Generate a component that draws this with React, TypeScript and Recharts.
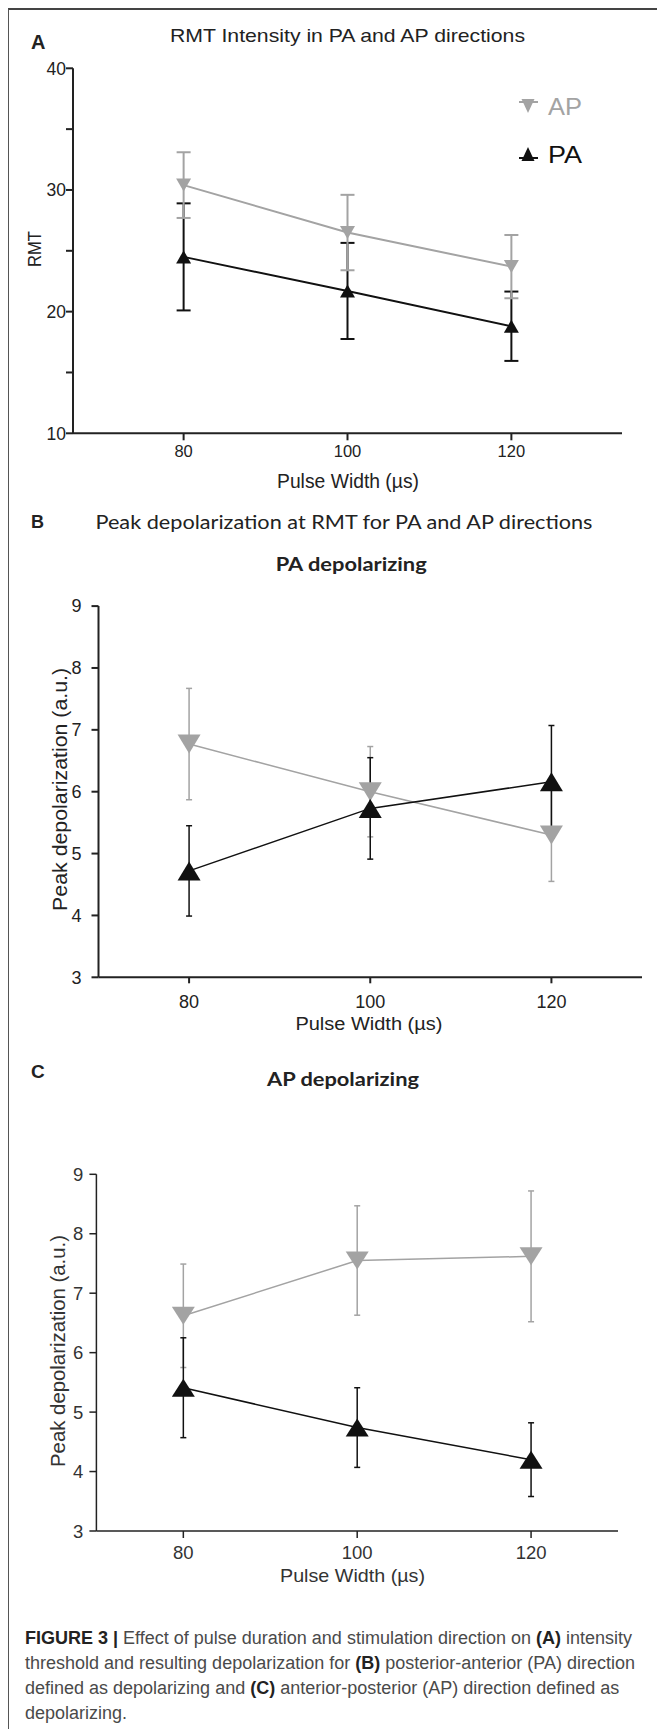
import React from 'react';
import { ScatterChart, Scatter, XAxis, YAxis, ErrorBar } from 'recharts';

const pulseWidths = [80, 100, 120];
const xTicks = [80, 100, 120];

// A: RMT intensity
const rmtAP = [30.4, 26.5, 23.7];
const rmtAPErr = [2.7, 3.1, 2.6];
const rmtPA = [24.5, 21.7, 18.8];
const rmtPAErr = [4.4, 3.95, 2.85];
const rmtTicks = [10, 15, 20, 25, 30, 35, 40];

// B: PA depolarizing
const paDepAP = [6.77, 6.0, 5.3];
const paDepAPErr = [0.9, 0.73, 0.75];
const paDepPA = [4.72, 5.73, 6.16];
const paDepPAErr = [0.73, 0.82, 0.91];

// C: AP depolarizing
const apDepAP = [6.62, 7.55, 7.62];
const apDepAPErr = [0.87, 0.92, 1.1];
const apDepPA = [5.41, 4.74, 4.2];
const apDepPAErr = [0.84, 0.67, 0.62];

const depTicks = [3, 4, 5, 6, 7, 8, 9];

const GRAY = '#a3a3a3';
const BLACK = '#111';
const AXIS = '#222';
const SANS = "'Liberation Sans', Arial, sans-serif";
const HUM = "Lato, 'Open Sans', sans-serif";

const toPoints = (ys: number[], errs: number[]) =>
  pulseWidths.map((x, i) => ({ x, y: ys[i], err: errs[i] }));

// triangle marker, up for PA and down for AP
const triangle = (w: number, h: number, up: boolean, fill: string) => (props: any) => {
  const { cx, cy } = props;
  if (cx == null || cy == null) return <g />;
  const pts = up
    ? `${cx},${cy - h / 2} ${cx + w / 2},${cy + h / 2} ${cx - w / 2},${cy + h / 2}`
    : `${cx - w / 2},${cy - h / 2} ${cx + w / 2},${cy - h / 2} ${cx},${cy + h / 2}`;
  return <polygon points={pts} fill={fill} />;
};

function series(
  name: string,
  data: any[],
  color: string,
  up: boolean,
  size: [number, number],
  lineW: number,
  capW: number,
  errW: number
) {
  return (
    <Scatter
      key={name}
      name={name}
      data={data}
      fill={color}
      line={{ stroke: color, strokeWidth: lineW }}
      shape={triangle(size[0], size[1], up, color)}
      isAnimationActive={false}
    >
      <ErrorBar dataKey="err" direction="y" width={capW} stroke={color} strokeWidth={errW} isAnimationActive={false} />
    </Scatter>
  );
}

export default function App() {
  const axisLine = { stroke: AXIS, strokeWidth: 2 };
  const thinAxis = { stroke: AXIS, strokeWidth: 1.5 };

  return (
    <div style={{ position: 'relative', width: 657, height: 1729, overflow: 'hidden', background: '#fff' }}>
      <style>{`body{margin:0}`}</style>
      <div
        style={{
          position: 'absolute',
          left: 8,
          top: 8,
          width: 649,
          height: 1721,
          borderTop: '2px solid #444',
          borderLeft: '1.5px solid #555',
          boxSizing: 'border-box',
        }}
      />

      {/* Panel A */}
      <div style={{ position: 'absolute', left: 0, top: 0 }}>
        <ScatterChart width={657} height={500} margin={{ top: 68.3, right: 35, bottom: 36.7, left: 13 }}>
          <XAxis
            type="number"
            dataKey="x"
            domain={[66.5, 133.5]}
            ticks={xTicks}
            allowDataOverflow
            height={30}
            axisLine={axisLine}
            tickLine={axisLine}
            tickSize={7}
            tickMargin={5}
            tick={{ fontSize: 16.5, fill: AXIS, fontFamily: SANS }}
          />
          <YAxis
            type="number"
            dataKey="y"
            domain={[10, 40]}
            ticks={rmtTicks}
            allowDataOverflow
            width={60}
            axisLine={axisLine}
            tickLine={axisLine}
            tickSize={7}
            tickMargin={0}
            tickFormatter={(v: number) => (v % 10 === 0 ? String(v) : '')}
            tick={{ fontSize: 17.5, fill: AXIS, fontFamily: SANS }}
          />
          {series('PA', toPoints(rmtPA, rmtPAErr), BLACK, true, [15, 13], 2, 7, 2)}
          {series('AP', toPoints(rmtAP, rmtAPErr), GRAY, false, [15, 13], 2, 7, 2)}
        </ScatterChart>
      </div>

      {/* Panel B */}
      <div style={{ position: 'absolute', left: 0, top: 590 }}>
        <ScatterChart width={657} height={440} margin={{ top: 16.1, right: 15, bottom: 22.7, left: 38.5 }}>
          <XAxis
            type="number"
            dataKey="x"
            domain={[70, 130]}
            ticks={xTicks}
            allowDataOverflow
            height={30}
            axisLine={axisLine}
            tickLine={axisLine}
            tickSize={6}
            tickMargin={12}
            tick={{ fontSize: 18, fill: AXIS, fontFamily: SANS }}
          />
          <YAxis
            type="number"
            dataKey="y"
            domain={[3, 9]}
            ticks={depTicks}
            allowDataOverflow
            width={60}
            axisLine={axisLine}
            tickLine={axisLine}
            tickSize={7}
            tickMargin={10}
            tick={{ fontSize: 18, fill: AXIS, fontFamily: SANS }}
          />
          {series('AP', toPoints(paDepAP, paDepAPErr), GRAY, false, [23, 19], 1.5, 3, 1.5)}
          {series('PA', toPoints(paDepPA, paDepPAErr), BLACK, true, [23, 19], 1.5, 3, 1.5)}
        </ScatterChart>
      </div>

      {/* Panel C */}
      <div style={{ position: 'absolute', left: 0, top: 1160 }}>
        <ScatterChart width={657} height={420} margin={{ top: 14.3, right: 39, bottom: 19, left: 36.4 }}>
          <XAxis
            type="number"
            dataKey="x"
            domain={[70, 130]}
            ticks={xTicks}
            allowDataOverflow
            height={30}
            axisLine={thinAxis}
            tickLine={thinAxis}
            tickSize={7}
            tickMargin={8}
            tick={{ fontSize: 18.5, fill: '#333', fontFamily: SANS }}
          />
          <YAxis
            type="number"
            dataKey="y"
            domain={[3, 9]}
            ticks={depTicks}
            allowDataOverflow
            width={60}
            axisLine={thinAxis}
            tickLine={thinAxis}
            tickSize={7}
            tickMargin={6}
            tick={{ fontSize: 18.5, fill: '#333', fontFamily: SANS }}
          />
          {series('AP', toPoints(apDepAP, apDepAPErr), GRAY, false, [23, 18], 1.5, 3, 1.5)}
          {series('PA', toPoints(apDepPA, apDepPAErr), BLACK, true, [23, 18], 1.5, 3, 1.5)}
        </ScatterChart>
      </div>

      {/* titles, axis labels, legend and caption */}
      <svg width={657} height={1729} style={{ position: 'absolute', left: 0, top: 0, pointerEvents: 'none' }}>
        <g fontFamily={SANS} fill={AXIS}>
          <text x={31} y={49} fontSize={20} fontWeight="bold">A</text>
          <text x={170} y={41.7} fontSize={19} textLength={355} lengthAdjust="spacingAndGlyphs">
            RMT Intensity in PA and AP directions
          </text>
          <text x={277} y={488} fontSize={20} textLength={142} lengthAdjust="spacingAndGlyphs">
            Pulse Width (µs)
          </text>
          <text x={41} y={249} fontSize={19} textAnchor="middle" transform="rotate(-90 41 249)" textLength={36} lengthAdjust="spacingAndGlyphs">
            RMT
          </text>

          {/* legend */}
          <line x1={519} y1={102} x2={538} y2={102} stroke={GRAY} strokeWidth={2} />
          <polygon points="521.5,99 534.5,99 528,113" fill={GRAY} />
          <text x={548} y={115} fontSize={23} fill={GRAY} textLength={34} lengthAdjust="spacingAndGlyphs">AP</text>
          <line x1={519} y1={158} x2={538} y2={158} stroke={BLACK} strokeWidth={2} />
          <polygon points="528,147 534.5,161 521.5,161" fill={BLACK} />
          <text x={548} y={163} fontSize={23} fill={BLACK} textLength={34} lengthAdjust="spacingAndGlyphs">PA</text>

          <text x={31} y={528} fontSize={18} fontWeight="bold">B</text>
          <text x={95.5} y={528.5} fontSize={18.5} fontFamily={HUM} textLength={497} lengthAdjust="spacingAndGlyphs">
            Peak depolarization at RMT for PA and AP directions
          </text>
          <text x={275.7} y={571} fontSize={18.5} fontFamily={HUM} fontWeight="bold" textLength={151} lengthAdjust="spacingAndGlyphs">
            PA depolarizing
          </text>
          <text x={67} y={789.4} fontSize={21} textAnchor="middle" transform="rotate(-90 67 789.4)" textLength={243} lengthAdjust="spacingAndGlyphs">
            Peak depolarization (a.u.)
          </text>
          <text x={295.4} y={1030} fontSize={18} textLength={147} lengthAdjust="spacingAndGlyphs">
            Pulse Width (µs)
          </text>

          <text x={31} y={1078} fontSize={19} fontWeight="bold">C</text>
          <text x={267} y={1086} fontSize={18.5} fontFamily={HUM} fontWeight="bold" textLength={152} lengthAdjust="spacingAndGlyphs">
            AP depolarizing
          </text>
          <text x={65} y={1351} fontSize={20} fill="#333" textAnchor="middle" transform="rotate(-90 65 1351)" textLength={232} lengthAdjust="spacingAndGlyphs">
            Peak depolarization (a.u.)
          </text>
          <text x={280} y={1582} fontSize={19} fill="#333" textLength={145} lengthAdjust="spacingAndGlyphs">
            Pulse Width (µs)
          </text>
        </g>

        <g fontFamily={SANS} fontSize={18} fill="#4a4a4a">
          <text x={25} y={1644}>
            <tspan fontWeight="bold" fill="#222">FIGURE 3 | </tspan>
            Effect of pulse duration and stimulation direction on <tspan fontWeight="bold" fill="#222">(A)</tspan> intensity
          </text>
          <text x={25} y={1669}>
            threshold and resulting depolarization for <tspan fontWeight="bold" fill="#222">(B)</tspan> posterior-anterior (PA) direction
          </text>
          <text x={25} y={1694}>
            defined as depolarizing and <tspan fontWeight="bold" fill="#222">(C)</tspan> anterior-posterior (AP) direction defined as
          </text>
          <text x={25} y={1719}>depolarizing.</text>
        </g>
      </svg>
    </div>
  );
}
